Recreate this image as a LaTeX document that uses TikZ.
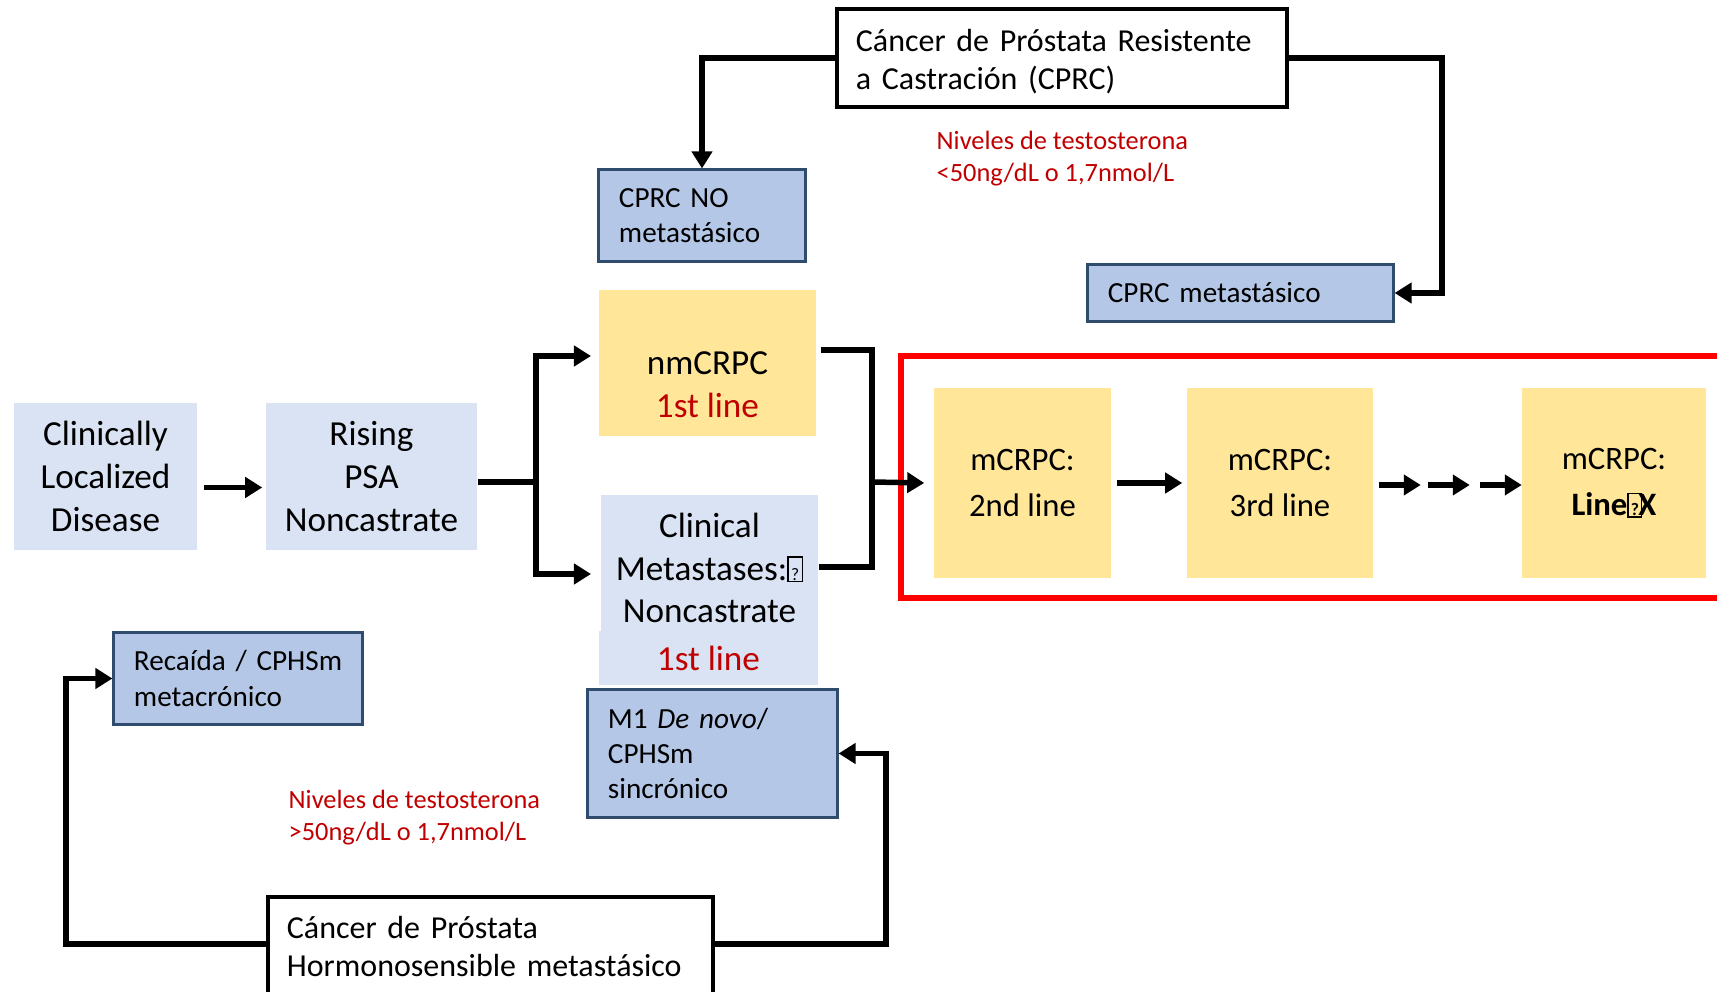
\documentclass[tikz,border=0pt]{standalone}
\usepackage{fontspec}
\setmainfont{Carlito}
\usepackage{tikz}
\usetikzlibrary{arrows.meta}
\usetikzlibrary{calc}

\definecolor{paleblue}{HTML}{DAE3F3}
\definecolor{paleyellow}{HTML}{FFE699}
\definecolor{boxblue}{HTML}{B4C7E7}
\definecolor{edgeblue}{HTML}{2F4B6E}
\definecolor{notered}{HTML}{C00000}

% box drawn for a glyph the font lacks
\newcommand{\nochar}{{\setlength{\fboxsep}{0.2pt}\setlength{\fboxrule}{0.45pt}\fbox{\makebox[0.32em]{\rule{0pt}{0.62em}\fontsize{5pt}{5pt}\selectfont ?}}}}

\begin{document}
\begin{tikzpicture}[x=0.01cm, y=-0.01cm,
				   every node/.style={inner sep=0pt},
				   bigtext/.style={align=center, font=\fontsize{10pt}{12.2pt}\selectfont},
				   stage/.style={bigtext, fill=paleblue},
				   mstage/.style={align=center, fill=paleyellow, font=\fontsize{9.3pt}{13.1pt}\selectfont, minimum height=1.9cm},
				   title/.style={draw=black, line width=0.04cm, fill=white, align=left, inner xsep=0.19cm, font=\fontsize{9.1pt}{10.8pt}\selectfont},
				   sub/.style={draw=edgeblue, line width=0.03cm, fill=boxblue, align=left, inner xsep=0.2cm, font=\fontsize{8.3pt}{10pt}\selectfont},
				   note/.style={text=notered, align=left, anchor=north west, font=\fontsize{7.5pt}{9.1pt}\selectfont},
				   line/.style={line width=0.055cm},
				   conn/.style={line, -{Triangle[length=0.17cm, width=0.2cm]}}]

\useasboundingbox (0,0) rectangle (1717,992);

% red frame round the mCRPC lines
\draw[red, line width=0.055cm] (901,356) rectangle (1770,598);

\node[stage, minimum width=1.83cm, minimum height=1.47cm] (cld) at (105.5,476.5) {Clinically\\Localized\\Disease};
\node[stage, minimum width=2.11cm, minimum height=1.47cm] (rising) at (371.5,476.5) {Rising\\PSA\\Noncastrate};
\node[fill=paleyellow, minimum width=2.17cm, minimum height=1.46cm] (nm) at (707.5,363) {};
\node[bigtext] (nmtext) at (707.5,385) {nmCRPC\\\textcolor{notered}{1st line}};
\node[fill=paleblue, minimum width=2.17cm, minimum height=1.36cm] (clinmet) at (709.5,563) {};
\node[bigtext] (clinmettext) at (709.5,568) {Clinical\\Metastases:\nochar\\Noncastrate};
\node[stage, minimum width=2.19cm, minimum height=0.54cm, text=notered] (clinfirst) at (708.5,658) {1st line};

\node[mstage, minimum width=1.77cm] (m2) at (1022.5,483) {mCRPC:\\2nd line};
\node[mstage, minimum width=1.86cm] (m3) at (1280,483) {mCRPC:\\3rd line};
\node[mstage, minimum width=1.84cm] (mx) at (1614,483) {mCRPC:\\\textbf{Line\nochar\kern-0.12em X}};

\node[title, text width=4.12cm, minimum height=0.98cm] (cprc) at (1062,58) {\rule{0pt}{0.3cm}Cáncer de Próstata Resistente\\a Castración (CPRC)};
\node[title, text width=4.07cm, minimum height=0.99cm] (cphs) at (490.5,946.5) {Cáncer de Próstata\\Hormonosensible metastásico};

\node[sub, text width=1.66cm, minimum height=0.91cm] (nometa) at (702,215.5) {CPRC NO\\metastásico};
\node[sub, text width=2.65cm, minimum height=0.56cm] (meta) at (1240.5,293) {CPRC metastásico};
\node[sub, text width=2.08cm, minimum height=0.91cm] (recaida) at (238,678.5) {\mbox{Recaída / CPHSm}\\metacrónico};
\node[sub, text width=2.09cm, minimum height=1.27cm] (m1) at (712.5,753.5) {M1 \textit{De novo}/\\CPHSm\\sincrónico};

\node[note] (lowT) at (936,130) {Niveles de testosterona\\<50ng/dL o 1,7nmol/L};
\node[note] (highT) at (288,789) {Niveles de testosterona\\>50ng/dL o 1,7nmol/L};

% connectors
\draw[conn] (cprc.west) -| (nometa.north);
\draw[conn] (cprc.east) -- ++(153,0) |- (meta.east);
\draw[conn] ($(cld.east)+(6,11)$) -- ($(rising.west)+(-3,11)$);

\coordinate (split) at (536,482);
\coordinate (tonm) at (591,356);
\coordinate (tomet) at (591,574);
\draw[line] ($(rising.east)+(0,5.5)$) -- (split);
\draw[conn] (split) |- (tonm);
\draw[conn] (split) |- (tomet);

\coordinate (join) at (872,482);
\draw[line] ($(nm.east)+(4,-13)$) -| (join);
\draw[line] ($(clinmet.east)+(0,4)$) -| (join);
\draw[conn] (join) -- ($(m2.west)+(-9,0)$);

\draw[conn] ($(m2.east)+(5,0)$) -- ($(m3.west)+(-4,0)$);
\foreach \off in {5,54,106}
	\draw[conn] ($(m3.east)+(\off,2)$) -- ++(42,0);

\draw[conn] ($(cphs.west)+(0,-2.5)$) -- ++(-200,0) |- (recaida.west);
\draw[conn] ($(cphs.east)+(0,-2.5)$) -- ++(171,0) |- (m1.east);

\end{tikzpicture}
\end{document}
